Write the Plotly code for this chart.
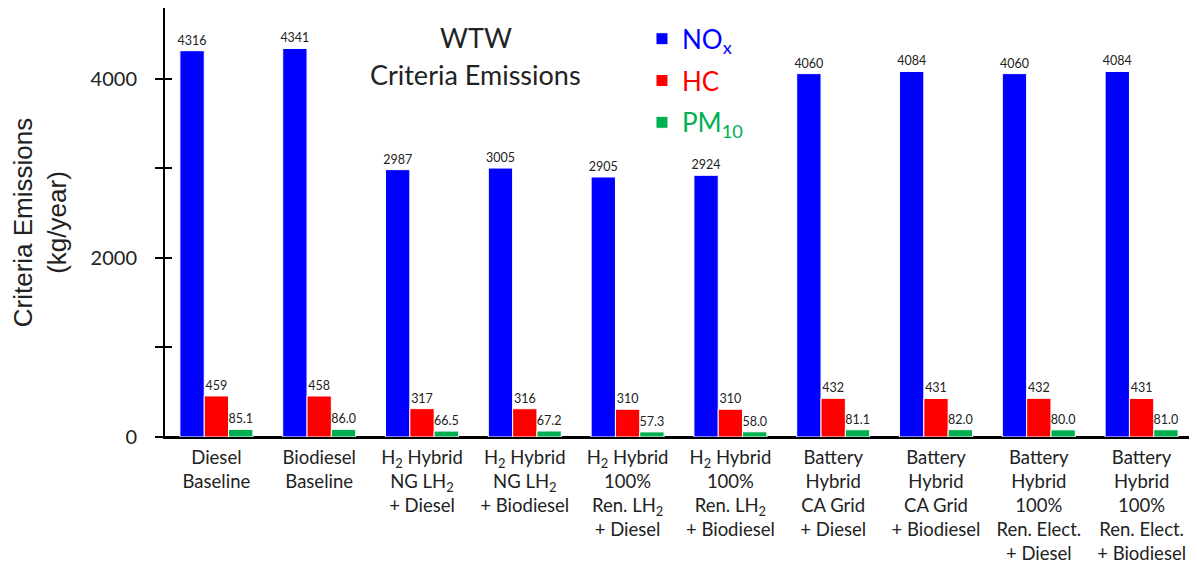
import plotly.graph_objects as go

categories = [
    "Diesel<br>Baseline",
    "Biodiesel<br>Baseline",
    "H<sub>2</sub> Hybrid<br>NG LH<sub>2</sub><br>+ Diesel",
    "H<sub>2</sub> Hybrid<br>NG LH<sub>2</sub><br>+ Biodiesel",
    "H<sub>2</sub> Hybrid<br>100%<br>Ren. LH<sub>2</sub><br>+ Diesel",
    "H<sub>2</sub> Hybrid<br>100%<br>Ren. LH<sub>2</sub><br>+ Biodiesel",
    "Battery<br>Hybrid<br>CA Grid<br>+ Diesel",
    "Battery<br>Hybrid<br>CA Grid<br>+ Biodiesel",
    "Battery<br>Hybrid<br>100%<br>Ren. Elect.<br>+ Diesel",
    "Battery<br>Hybrid<br>100%<br>Ren. Elect.<br>+ Biodiesel",
]
nox = [4316, 4341, 2987, 3005, 2905, 2924, 4060, 4084, 4060, 4084]
hc = [459, 458, 317, 316, 310, 310, 432, 431, 432, 431]
pm10 = [85.1, 86.0, 66.5, 67.2, 57.3, 58.0, 81.1, 82.0, 80.0, 81.0]
nox_text = [str(v) for v in nox]
hc_text = [str(v) for v in hc]
pm_text = [f"{v:.1f}" for v in pm10]
y_tickvals = [0, 1000, 2000, 3000, 4000]
y_ticktext = ["0", "", "2000", "", "4000"]

FONT = "Lato"
ARIAL = "Liberation Sans"

fig = go.Figure()
series = [
    ("NO<sub>x</sub>", nox, nox_text, "#0000FF"),
    ("HC", hc, hc_text, "#FF0000"),
    ("PM<sub>10</sub>", pm10, pm_text, "#00B050"),
]
for i, (name, vals, txt, col) in enumerate(series):
    fig.add_trace(go.Bar(
        x=categories, y=vals, text=txt, textposition="outside",
        textfont=dict(size=12.5, color="#222", family=FONT),
        constraintext="none", cliponaxis=False,
        name=f'<span style="color:{col}">{name}</span>',
        legendgroup=f"g{i}",
        marker=dict(color=col, line=dict(color="white", width=1)),
    ))
# invisible helper trace so the inside-tick overlay axis is drawn
fig.add_trace(go.Scatter(x=[categories[0]], y=[0], yaxis="y2", mode="lines",
                         line=dict(width=0), showlegend=False, hoverinfo="skip"))

fig.update_layout(
    width=1197, height=567,
    margin=dict(l=157, r=12, t=0, b=138, autoexpand=False),
    plot_bgcolor="white", paper_bgcolor="white",
    barmode="group", bargap=0.29, bargroupgap=0.0,
    font=dict(family=FONT, color="#222"),
    showlegend=True,
    legend=dict(x=0.464, y=0.983, xanchor="left", yanchor="top",
                font=dict(size=26, family=FONT), bgcolor="rgba(0,0,0,0)",
                tracegroupgap=5, itemwidth=30),
    yaxis2=dict(overlaying="y", side="left", matches="y", showline=False,
                showgrid=False, zeroline=False, automargin=False,
                tickvals=y_tickvals, showticklabels=False,
                ticks="inside", ticklen=7, tickwidth=2, tickcolor="black"),
)
fig.update_xaxes(
    range=[-0.5, len(categories) - 0.5],
    showline=True, linecolor="black", linewidth=2, mirror=True, automargin=False,
    tickfont=dict(size=18.5, family=FONT, color="#222"), ticks="",
    ticklabelstandoff=3,
)
fig.update_layout(yaxis=dict(
    range=[0, 4793], showline=True, linecolor="black", linewidth=2, mirror=True,
    showgrid=False, zeroline=True, zerolinecolor="black", zerolinewidth=3,
    automargin=False,
    tickvals=y_tickvals, ticktext=y_ticktext,
    ticks="outside", ticklen=8, tickwidth=2, tickcolor="black",
    tickfont=dict(size=20, family=FONT, color="#222"), ticklabelstandoff=14,
    title=dict(text="Criteria Emissions<br>(kg/year)", font=dict(size=26, family=ARIAL, color="#222"), standoff=22),
))
fig.add_annotation(
    text="WTW", xref="paper", yref="paper",
    x=0.3025, y=0.932, xanchor="center", yanchor="middle", showarrow=False,
    font=dict(size=27, family=FONT, color="#222"),
)
fig.add_annotation(
    text="Criteria Emissions", xref="paper", yref="paper",
    x=0.3025, y=0.844, xanchor="center", yanchor="middle", showarrow=False,
    font=dict(size=27, family=FONT, color="#222"),
)
fig.write_html("out.html")
